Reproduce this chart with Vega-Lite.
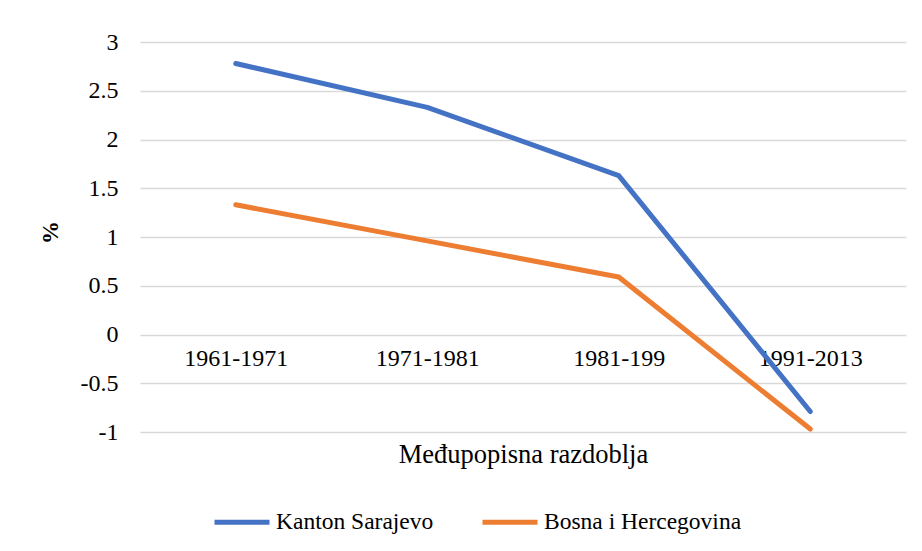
{
  "$schema": "https://vega.github.io/schema/vega-lite/v6.json",
  "width": 766,
  "height": 390,
  "autosize": {"type": "none"},
  "padding": {"left": 140, "top": 42, "right": 16, "bottom": 119},
  "background": "white",
  "config": {
    "view": {"stroke": null},
    "font": "Liberation Serif",
    "axis": {"labelFont": "Liberation Serif", "titleFont": "Liberation Serif"},
    "legend": {"labelFont": "Liberation Serif", "titleFont": "Liberation Serif"},
    "style": {
      "guide-label": {"font": "Liberation Serif"},
      "guide-title": {"font": "Liberation Serif"}
    }
  },
  "data": {
    "values": [
      {"period": "1961-1971", "series": "Kanton Sarajevo", "value": 2.78},
      {"period": "1971-1981", "series": "Kanton Sarajevo", "value": 2.33},
      {"period": "1981-199", "series": "Kanton Sarajevo", "value": 1.63},
      {"period": "1991-2013", "series": "Kanton Sarajevo", "value": -0.79},
      {"period": "1961-1971", "series": "Bosna i Hercegovina", "value": 1.33},
      {"period": "1971-1981", "series": "Bosna i Hercegovina", "value": 0.96},
      {"period": "1981-199", "series": "Bosna i Hercegovina", "value": 0.59},
      {"period": "1991-2013", "series": "Bosna i Hercegovina", "value": -0.97}
    ]
  },
  "mark": {"type": "line", "strokeWidth": 5, "strokeCap": "round", "strokeJoin": "round"},
  "encoding": {
    "x": {
      "field": "period",
      "type": "ordinal",
      "sort": null,
      "scale": {"type": "point", "padding": 0.5},
      "axis": {
        "title": "Međupopisna razdoblja",
        "offset": -98,
        "domain": false,
        "ticks": false,
        "grid": false,
        "labelAngle": 0,
        "labelFont": "Liberation Serif",
        "labelFontSize": 24,
        "labelColor": "#000000",
        "labelBaseline": "top",
        "labelPadding": 12,
        "titleFont": "Liberation Serif",
        "titleFontSize": 26.5,
        "titleFontWeight": "normal",
        "titleColor": "#000000",
        "titleBaseline": "middle",
        "titleY": 120
      }
    },
    "y": {
      "field": "value",
      "type": "quantitative",
      "scale": {"domain": [-1, 3], "nice": false, "zero": false},
      "axis": {
        "title": "%",
        "values": [-1, -0.5, 0, 0.5, 1, 1.5, 2, 2.5, 3],
        "labelExpr": "'' + datum.value",
        "domain": false,
        "ticks": false,
        "grid": true,
        "gridColor": "#d9d9d9",
        "gridWidth": 1.5,
        "labelFont": "Liberation Serif",
        "labelFontSize": 24,
        "labelColor": "#000000",
        "labelPadding": 22,
        "titleFont": "Liberation Serif",
        "titleFontSize": 23,
        "titleFontWeight": "bold",
        "titleColor": "#000000",
        "titleAngle": 270,
        "titleAlign": "center",
        "titleBaseline": "middle",
        "titleX": -90,
        "titleY": 190
      }
    },
    "color": {
      "field": "series",
      "type": "nominal",
      "scale": {
        "domain": ["Kanton Sarajevo", "Bosna i Hercegovina"],
        "range": ["#4472C4", "#ED7D31"]
      },
      "legend": {
        "title": null,
        "orient": "none",
        "direction": "horizontal",
        "legendX": 72,
        "legendY": 450,
        "symbolType": "stroke",
        "symbolSize": 3025,
        "symbolStrokeWidth": 5,
        "labelFont": "Liberation Serif",
        "labelFontSize": 23.5,
        "labelColor": "#000000",
        "labelOffset": 4,
        "columnPadding": 38,
        "labelLimit": 400
      }
    }
  }
}
